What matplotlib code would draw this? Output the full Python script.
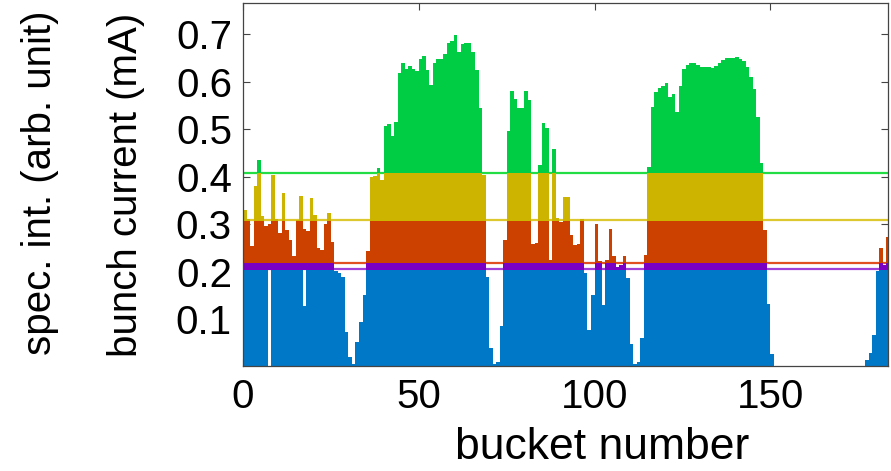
import numpy as np
import matplotlib
matplotlib.use("Agg")
import matplotlib.pyplot as plt

plt.rcParams['font.family'] = ['Liberation Sans', 'DejaVu Sans']

# bunch current per bucket (mA)
current = [
    0.331, 0.312, 0.255, 0.380, 0.436, 0.317, 0.296, 0.300, 0.404, 0.312,
    0.282, 0.367, 0.289, 0.268, 0.233, 0.309, 0.360, 0.290, 0.286, 0.356,
    0.320, 0.251, 0.247, 0.300, 0.324, 0.263, 0.202, 0.198, 0.190, 0.074,
    0.021, 0.006, 0.053, 0.095, 0.151, 0.244, 0.399, 0.401, 0.418, 0.394,
    0.507, 0.511, 0.486, 0.516, 0.619, 0.639, 0.628, 0.634, 0.628, 0.623,
    0.649, 0.654, 0.626, 0.594, 0.639, 0.648, 0.649, 0.658, 0.682, 0.686,
    0.698, 0.662, 0.679, 0.681, 0.681, 0.662, 0.625, 0.544, 0.405, 0.190,
    0.040, 0.007, 0.011, 0.086, 0.267, 0.497, 0.581, 0.565, 0.544, 0.546,
    0.580, 0.561, 0.258, 0.260, 0.425, 0.514, 0.502, 0.225, 0.458, 0.314,
    0.305, 0.357, 0.357, 0.277, 0.256, 0.258, 0.312, 0.198, 0.077, 0.151,
    0.300, 0.222, 0.130, 0.226, 0.291, 0.233, 0.210, 0.214, 0.233, 0.188,
    0.049, 0.007, 0.010, 0.060, 0.236, 0.421, 0.547, 0.579, 0.588, 0.591,
    0.598, 0.568, 0.575, 0.537, 0.591, 0.628, 0.635, 0.640, 0.640, 0.635,
    0.632, 0.632, 0.632, 0.630, 0.633, 0.640, 0.646, 0.651, 0.651, 0.651,
    0.653, 0.649, 0.644, 0.632, 0.611, 0.584, 0.526, 0.430, 0.289, 0.132,
    0.028, 0, 0, 0, 0, 0, 0, 0, 0, 0,
    0, 0, 0, 0, 0, 0, 0, 0, 0, 0,
    0, 0, 0, 0, 0, 0, 0, 0.014, 0.029, 0.067,
    0.202, 0.251, 0.214, 0.274,
]
# buckets where the lowest (blue) layer is lower than the bunch current
blue_cut = {7: 0.0, 17: 0.128}

# spectral intensity bands (mA scale) and their colours
band_edges = [0.0, 0.205, 0.218, 0.308, 0.408, 1.0]
band_colors = ['#0078c8', '#7a00c4', '#cc4000', '#ccb400', '#00cc44']

# threshold lines
line_levels = [0.409, 0.309, 0.2195, 0.2065]
line_colors = ['#22dd44', '#ddc830', '#e05020', '#a040d8']

cur = np.array(current)
buckets = np.arange(len(cur))

fig = plt.figure(figsize=(8.91, 4.71), dpi=100)
ax = fig.add_axes([243/891, 1-366/471, 644.7/891, 363/471])

for lvl, c in zip(line_levels, line_colors):
    ax.axhline(lvl, color=c, lw=1.6, zorder=1)

for k in range(len(band_colors)):
    lo, hi = band_edges[k], band_edges[k+1]
    top = np.clip(cur, lo, hi)
    if k == 0:
        top = top.copy()
        for b, v in blue_cut.items():
            top[b] = v
    ax.bar(buckets, top - lo, bottom=lo, width=1.0, align='edge',
           color=band_colors[k], linewidth=0, zorder=2)

ax.set_xlim(0, 183.4)
ax.set_ylim(0.002, 0.766)
ax.set_xticks([0, 50, 100, 150])
ax.set_yticks([0.1, 0.2, 0.3, 0.4, 0.5, 0.6, 0.7])
ax.set_yticklabels(['0.1', '0.2', '0.3', '0.4', '0.5', '0.6', '0.7'])
ax.tick_params(direction='in', length=5, width=0.8, colors='#444444',
               labelcolor='black', labelsize=29, top=True, right=True)
ax.tick_params(axis='y', pad=8)
ax.tick_params(axis='x', pad=9)
for s in ax.spines.values():
    s.set_color('#444444')
    s.set_linewidth(0.9)

ax.set_xlabel('bucket number', fontsize=32, va='center')
ax.xaxis.set_label_coords(0.557, -0.225)
ax.set_ylabel('bunch current (mA)', fontsize=29, va='center')
ax.yaxis.set_label_coords(-0.1815, 0.5)
fig.text(40/891, 1-183/471, 'spec. int. (arb. unit)', fontsize=29,
         rotation=90, ha='center', va='center')

fig.savefig('out.png', dpi=100)
